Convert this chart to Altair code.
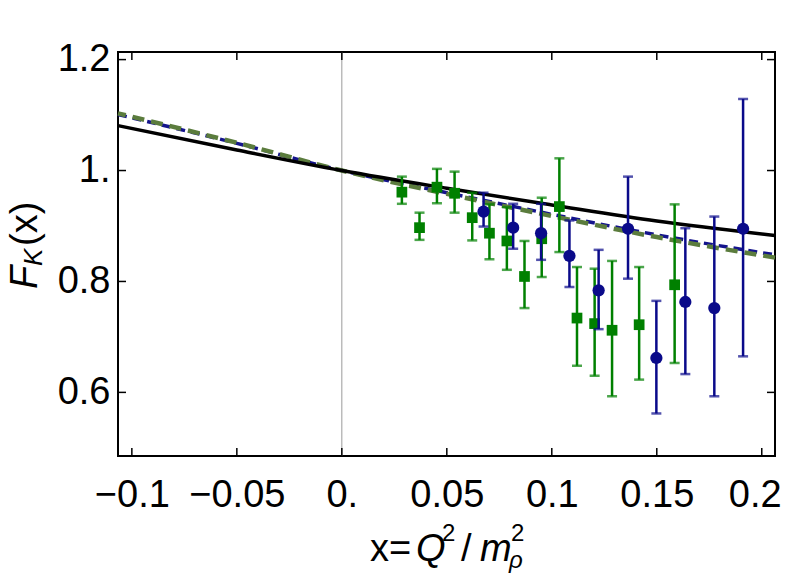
import altair as alt
import pandas as pd

# ---- data ----
green_x = [0.0286, 0.0370, 0.0453, 0.0537, 0.0621, 0.0703, 0.0786, 0.0870, 0.0952, 0.1036, 0.1120, 0.1204, 0.1287, 0.1416, 0.1585]
green_y = [0.961, 0.897, 0.970, 0.959, 0.915, 0.887, 0.873, 0.809, 0.877, 0.935, 0.734, 0.724, 0.712, 0.722, 0.794]
green_lo = [0.940, 0.875, 0.941, 0.924, 0.874, 0.840, 0.821, 0.752, 0.808, 0.853, 0.648, 0.630, 0.593, 0.623, 0.653]
green_hi = [0.989, 0.924, 1.003, 0.998, 0.960, 0.939, 0.934, 0.873, 0.951, 1.022, 0.826, 0.823, 0.837, 0.826, 0.939]

blue_x = [0.0675, 0.0816, 0.0949, 0.1084, 0.1223, 0.1363, 0.1498, 0.1636, 0.1774, 0.1911]
blue_y = [0.926, 0.897, 0.887, 0.846, 0.784, 0.895, 0.662, 0.763, 0.752, 0.895]
blue_lo = [0.899, 0.859, 0.839, 0.790, 0.714, 0.805, 0.562, 0.633, 0.593, 0.665]
blue_hi = [0.960, 0.940, 0.940, 0.910, 0.857, 0.989, 0.765, 0.896, 0.917, 1.129]

curve_x = [-0.1066, -0.05, 0.0, 0.05, 0.10, 0.15, 0.2063]
black_y = [1.081, 1.037, 1.000, 0.968, 0.938, 0.909, 0.883]
green_dash_y = [1.103, 1.050, 1.000, 0.958, 0.918, 0.880, 0.843]
blue_dash_y = [1.101, 1.049, 1.000, 0.960, 0.921, 0.884, 0.848]

x_ticks = [-0.1, -0.05, 0.0, 0.05, 0.1, 0.15, 0.2]
y_ticks = [0.6, 0.8, 1.0, 1.2]
x_domain = [-0.1066, 0.2063]
y_domain = [0.4853, 1.2137]

W, H = 657, 404
FONT = "Liberation Sans"
FS = 38

xs = alt.Scale(domain=x_domain, nice=False, zero=False)
ys = alt.Scale(domain=y_domain, nice=False, zero=False)

green_df = pd.DataFrame({"x": green_x, "y": green_y, "lo": green_lo, "hi": green_hi})
blue_df = pd.DataFrame({"x": blue_x, "y": blue_y, "lo": blue_lo, "hi": blue_hi})
curves = pd.DataFrame({"x": curve_x, "black": black_y, "gd": green_dash_y, "bd": blue_dash_y})
xt = pd.DataFrame({"v": x_ticks})
yt = pd.DataFrame({"v": y_ticks})
one = pd.DataFrame({"v": [0.0]})

label_expr = ("datum.value == 0 ? '0.' : datum.value == 1 ? '1.' : "
              "(datum.value < 0 ? '\u2212' : '') + format(abs(datum.value), '.2~f')")

X = alt.X("x:Q", scale=xs, axis=alt.Axis(
    values=x_ticks, labelExpr=label_expr, title=None,
    labelPadding=20, labelFlush=False, labelOverlap=False,
    labelOffset={"condition": {"test": "datum.value > 0.19", "value": -7}, "value": 0}))
Yax = alt.Axis(values=y_ticks, labelExpr=label_expr, title=None, labelPadding=8, labelOverlap=False)

base_axes = alt.Chart(curves).mark_line(opacity=0).encode(
    x=X, y=alt.Y("black:Q", scale=ys, axis=Yax))

zero_line = alt.Chart(one).mark_rule(color="#9a9a9a", strokeWidth=1).encode(
    x=alt.X("v:Q", scale=xs), y=alt.value(0), y2=alt.value(H))

# ticks inside the frame
tick_b = alt.Chart(xt).mark_rule(color="black", strokeWidth=1.5).encode(
    x=alt.X("v:Q", scale=xs), y=alt.value(H), y2=alt.value(H - 8))
tick_t = alt.Chart(xt).mark_rule(color="black", strokeWidth=1.5).encode(
    x=alt.X("v:Q", scale=xs), y=alt.value(0), y2=alt.value(8))
tick_l = alt.Chart(yt).mark_rule(color="black", strokeWidth=1.5).encode(
    y=alt.Y("v:Q", scale=ys), x=alt.value(0), x2=alt.value(8))
tick_r = alt.Chart(yt).mark_rule(color="black", strokeWidth=1.5).encode(
    y=alt.Y("v:Q", scale=ys), x=alt.value(W), x2=alt.value(W - 8))

line_bd = alt.Chart(curves).mark_line(color="#14148c", strokeWidth=3.5, strokeDash=[9, 6],
                                      interpolate="monotone").encode(
    x=alt.X("x:Q", scale=xs), y=alt.Y("bd:Q", scale=ys))
line_gd = alt.Chart(curves).mark_line(color="#5b7c3d", strokeWidth=4.5, strokeDash=[12, 7],
                                      strokeDashOffset=4, interpolate="monotone").encode(
    x=alt.X("x:Q", scale=xs), y=alt.Y("gd:Q", scale=ys))
line_bk = alt.Chart(curves).mark_line(color="black", strokeWidth=3.5, interpolate="monotone").encode(
    x=alt.X("x:Q", scale=xs), y=alt.Y("black:Q", scale=ys))


def errs(df, color, shape, size):
    bar = alt.Chart(df).mark_rule(color=color, strokeWidth=2.5).encode(
        x=alt.X("x:Q", scale=xs), y=alt.Y("lo:Q", scale=ys), y2="hi:Q")
    cap_hi = alt.Chart(df).mark_tick(color=color, orient="horizontal", size=10, thickness=2.5).encode(
        x=alt.X("x:Q", scale=xs), y=alt.Y("hi:Q", scale=ys))
    cap_lo = alt.Chart(df).mark_tick(color=color, orient="horizontal", size=10, thickness=2.5).encode(
        x=alt.X("x:Q", scale=xs), y=alt.Y("lo:Q", scale=ys))
    pts = alt.Chart(df).mark_point(shape=shape, filled=True, size=size, color=color, opacity=1).encode(
        x=alt.X("x:Q", scale=xs), y=alt.Y("y:Q", scale=ys))
    return [bar, cap_hi, cap_lo, pts]


def txt(s, x, y, size=FS, italic=False, angle=0):
    kw = dict(text=s, font=FONT, fontSize=size, align="left", baseline="alphabetic", color="black")
    if italic:
        kw["fontStyle"] = "italic"
    if angle:
        kw["angle"] = angle
    return alt.Chart(one).mark_text(**kw).encode(x=alt.value(x), y=alt.value(y))


# x title: x=Q^2/m^2_rho
XB = 509
xtitle = [
    txt("x", 252, XB),
    txt("=", 271, XB),
    txt("Q", 298, XB, italic=True),
    txt("2", 324, XB - 20, size=24),
    txt("/", 343, XB),
    txt("m", 362, XB, italic=True),
    txt("2", 393, XB - 20, size=24),
    txt("\u03c1", 391, XB + 7, size=24, italic=True),
]
# y title: F_K(x), rotated
YB = -81
ytitle = [
    txt("F", YB, 237, italic=True, angle=270),
    txt("K", YB + 5, 214, size=26, italic=True, angle=270),
    txt("(x)", YB, 194, angle=270),
]

layers = [base_axes, zero_line, line_bd, line_gd, line_bk]
layers += errs(green_df, "#008000", "square", 115)
layers += errs(blue_df, "#0a0a8a", "circle", 150)
layers += [tick_b, tick_t, tick_l, tick_r] + xtitle + ytitle

chart = alt.layer(*layers).properties(
    width=W, height=H,
    autosize=alt.AutoSizeParams(type="none"),
    padding={"left": 110, "top": 44, "right": 6, "bottom": 118},
).configure_view(stroke="black", strokeWidth=2).configure_axis(
    domain=False, grid=False, ticks=False, tickSize=0,
    labelFont=FONT, labelFontSize=FS, labelColor="black",
)

chart.save("out.html", embed_options={"renderer": "svg", "actions": False})
